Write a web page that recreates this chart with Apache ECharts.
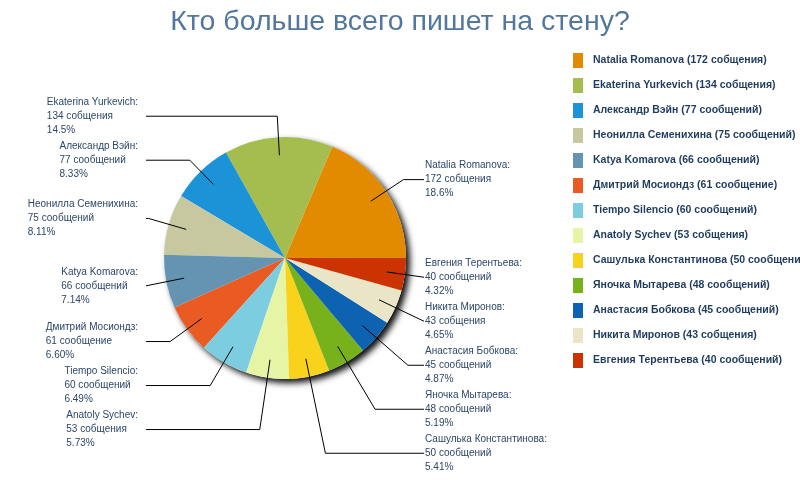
<!DOCTYPE html>
<html><head><meta charset="utf-8">
<script src="https://cdn.jsdelivr.net/npm/echarts@6/dist/echarts.min.js"></script>
<style>html,body{margin:0;padding:0;background:#fff}#c{width:800px;height:500px}</style>
</head><body><div id="c"></div>
<script>
var names = ['Natalia Romanova','Ekaterina Yurkevich','Александр Вэйн','Неонилла Семенихина','Katya Komarova','Дмитрий Мосиондз','Tiempo Silencio','Anatoly Sychev','Сашулька Константинова','Яночка Мытарева','Анастасия Бобкова','Никита Миронов','Евгения Терентьева'];
var values = [172,134,77,75,66,61,60,53,50,48,45,43,40];
var words = ['собщения','собщения','сообщений','сообщений','сообщений','сообщение','сообщений','собщения','сообщений','сообщений','сообщений','собщения','сообщений'];
var percents = ['18.6%','14.5%','8.33%','8.11%','7.14%','6.60%','6.49%','5.73%','5.41%','5.19%','4.87%','4.65%','4.32%'];
var colors = ['#e38b00','#a5bd4f','#1c93d7','#c7c7a0','#6494b1','#ea5a23','#7dcde1','#e5f4a5','#f8d21b','#77b11b','#0e62b2','#e9e5c6','#cc3300'];

var CX = 285, CY = 258, R = 121;

function leaderLayout(p){
  var pts = p.labelLinePoints;
  if (!pts) return {};
  var ux = (pts[0][0]-CX)/R, uy = (pts[0][1]-CY)/R;
  var k = 0.85*R;
  var s = [CX+ux*k, CY+uy*k];
  var rect = p.labelRect;
  var ly = rect.y + rect.height/2;
  var left = ux < 0;
  var lineEnd = left ? CX-R-18 : CX+R+18;
  var t = Math.abs(uy) > 1e-3 ? (ly-CY)/uy : k;
  var linePts;
  if (t >= k) {
    var bx = CX + ux*t;
    bx = left ? Math.max(bx, lineEnd) : Math.min(bx, lineEnd);
    linePts = [s, [bx, ly], [lineEnd, ly]];
  } else {
    linePts = [s, [lineEnd, ly], [lineEnd, ly]];
  }
  return {
    x: left ? CX-R-26-rect.width : CX+R+19,
    align: 'left',
    labelLinePoints: linePts
  };
}

var chart = echarts.init(document.getElementById('c'), null, {renderer:'canvas'});
var option = {
  animation: false,
  backgroundColor: '#ffffff',
  title: {
    text: 'Кто больше всего пишет на стену?',
    left: 'center', top: 3,
    textStyle: {color:'#52779e', fontSize:28.5, fontWeight:'normal', fontFamily:'Liberation Sans'}
  },
  legend: {
    orient: 'vertical', left: 568, top: 48,
    itemWidth: 10, itemHeight: 15, itemGap: 10, icon: 'rect',
    selectedMode: false,
    data: names,
    formatter: function(n){ var i = names.indexOf(n); return n + ' (' + values[i] + ' ' + words[i] + ')'; },
    textStyle: {fontFamily:'Liberation Sans', fontWeight:'bold', fontSize:10.5, color:'#1f3b5e', padding:[0,0,0,5]}
  },
  series: [
    {
      type: 'pie', center: [CX, CY], radius: R, z: 2,
      startAngle: 0, clockwise: false,
      emphasis: {scale:false},
      itemStyle: {borderWidth:0},
      data: names.map(function(n,i){ return {name:n, value:values[i], itemStyle:{color:colors[i]}}; }),
      label: {show:false}, labelLine: {show:false}
    },
    {
      type: 'pie', silent: true, center: [CX, CY], radius: R, z: 1,
      label: {show:false}, labelLine: {show:false}, legendHoverLink:false,
      data: [{value: 1, name: '_shadow', itemStyle: {color:'#ffffff', shadowColor:'rgba(0,0,0,0.95)', shadowBlur:6, shadowOffsetX:4, shadowOffsetY:4}}]
    },
    {
      type: 'pie', silent: true, center: [CX, CY], radius: R, z: 3,
      startAngle: 0, clockwise: false, legendHoverLink:false,
      emphasis: {scale:false},
      itemStyle: {color:'rgba(0,0,0,0)', borderWidth:0},
      data: names.map(function(n,i){ return {name:n, value:values[i]}; }),
      label: {
        show: true, position: 'outside', opacity: 1,
        formatter: function(p){ var i = p.dataIndex; return names[i] + ':\n' + values[i] + ' ' + words[i] + '\n' + percents[i]; },
        fontFamily: 'Liberation Sans', fontSize: 10, lineHeight: 14, color: '#2b4769'
      },
      labelLine: {show:true, length:21, length2:18, lineStyle:{color:'#000000', width:1, opacity:1}},
      labelLayout: leaderLayout
    }
  ]
};
chart.setOption(option);
</script>
</body></html>
